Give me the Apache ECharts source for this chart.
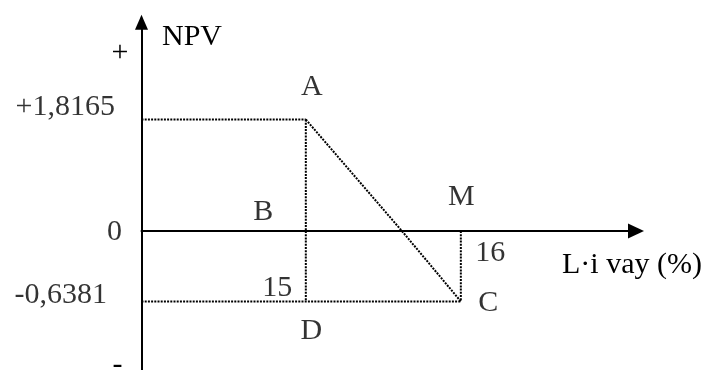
<!DOCTYPE html>
<html>
<head>
<meta charset="utf-8">
<script src="https://cdn.jsdelivr.net/npm/echarts@6/dist/echarts.min.js"></script>
<style>
html, body { margin: 0; padding: 0; background: #fff; }
#chart { width: 709px; height: 370px; }
</style>
</head>
<body>
<div id="chart"></div>
<script>
// lãi vay (%) tại hai lần thử
const rates = [15, 16]
// NPV tương ứng
const npvs = [1.8165, -0.6381]
// tên các điểm
const pointNames = ['A', 'C']
const axisNames = ['B', 'M']
const footName = 'D'
// chỗ đoạn AC cắt trục hoành
const crossRate = 15.62

const xMin = 13.94
const xMax = 17.13
const font = '"Liberation Serif", "Times New Roman", serif'
const dotted = { color: '#000', width: 2, type: [2, 1.2] }

const fmt = v => (v === 0 ? '0' : (v > 0 ? '+' : '') + v.toFixed(4).replace('.', ','))

function seg(grid, points) {
  return {
    type: 'line',
    xAxisIndex: grid,
    yAxisIndex: grid,
    data: points,
    symbol: 'none',
    lineStyle: dotted,
    clip: false,
    silent: true,
    z: 1
  }
}

function tags(grid, items) {
  return {
    type: 'scatter',
    xAxisIndex: grid,
    yAxisIndex: grid,
    symbolSize: 1,
    itemStyle: { color: 'transparent' },
    silent: true,
    data: items.map(it => ({
      value: it.at,
      label: {
        show: true,
        position: 'inside',
        formatter: it.text,
        align: it.align || 'center',
        verticalAlign: 'middle',
        offset: it.offset,
        fontFamily: font,
        fontSize: 30,
        color: '#000'
      }
    }))
  }
}

const chart = echarts.init(document.getElementById('chart'))

const hidden = {
  axisTick: { show: false },
  axisLabel: { show: false },
  splitLine: { show: false }
}
const axisLine = { color: '#000', width: 2 }

chart.setOption({
  animation: false,
  backgroundColor: '#fff',
  grid: [
    { left: 141.5, right: 73, top: 22.3, bottom: 139 },
    { left: 141.5, right: 73, top: 231, bottom: 0 }
  ],
  xAxis: [
    {
      gridIndex: 0,
      type: 'value',
      min: xMin,
      max: xMax,
      ...hidden,
      axisLine: { show: true, lineStyle: axisLine, symbol: ['none', 'triangle'], symbolSize: [15, 16] },
      name: 'L·i vay (%)',
      nameLocation: 'end',
      nameGap: -74,
      nameTextStyle: { fontFamily: font, fontSize: 30, color: '#000', align: 'left', verticalAlign: 'top', lineHeight: 68 }
    },
    { gridIndex: 1, type: 'value', min: xMin, max: xMax, ...hidden, axisLine: { show: false } }
  ],
  yAxis: [
    {
      gridIndex: 0,
      type: 'value',
      min: 0,
      max: 3.4,
      ...hidden,
      axisLine: { show: true, onZero: false, lineStyle: axisLine, symbol: ['none', 'triangle'], symbolSize: [13, 15] },
      name: 'NPV',
      nameLocation: 'end',
      nameGap: -15,
      nameTextStyle: { fontFamily: font, fontSize: 30, color: '#000', align: 'left', verticalAlign: 'middle', padding: [0, 0, 0, 20.5] }
    },
    {
      gridIndex: 1,
      type: 'value',
      min: -1.26,
      max: 0,
      ...hidden,
      axisLine: { show: true, onZero: false, lineStyle: axisLine }
    }
  ],
  graphic: [
    { type: 'text', x: 120, y: 53.5, style: { text: '+', fontFamily: font, fontSize: 30, fill: '#000', align: 'center', verticalAlign: 'middle' } },
    { type: 'text', x: 117.5, y: 365, style: { text: '-', fontFamily: font, fontSize: 30, fill: '#000', align: 'center', verticalAlign: 'middle' } }
  ],
  series: [
    // phần trên trục hoành
    seg(0, [[xMin, npvs[0]], [rates[0], npvs[0]]]),
    seg(0, [[rates[0], npvs[0]], [rates[0], 0]]),
    seg(0, [[rates[0], npvs[0]], [crossRate, 0]]),
    // phần dưới trục hoành
    seg(1, [[rates[0], 0], [rates[0], npvs[1]]]),
    seg(1, [[xMin, npvs[1]], [rates[1], npvs[1]]]),
    seg(1, [[rates[1], 0], [rates[1], npvs[1]]]),
    seg(1, [[crossRate, 0], [rates[1], npvs[1]]]),
    tags(0, [
      { at: [rates[0], npvs[0]], text: pointNames[0], offset: [6, -32] },
      { at: [rates[0], 0], text: axisNames[0], offset: [-42.5, -19] },
      { at: [rates[1], 0], text: axisNames[1], offset: [0.5, -34] },
      { at: [rates[1], 0], text: String(rates[1]), align: 'left', offset: [14.5, 22] },
      { at: [xMin, npvs[0]], text: fmt(npvs[0]), align: 'right', offset: [-26.5, -12.5] },
      { at: [xMin, 0], text: fmt(0), align: 'right', offset: [-19.5, 1.5] }
    ]),
    tags(1, [
      { at: [rates[1], npvs[1]], text: pointNames[1], align: 'left', offset: [17.5, 1.5] },
      { at: [rates[0], npvs[1]], text: footName, offset: [5.5, 29.5] },
      { at: [rates[0], npvs[1]], text: String(rates[0]), align: 'right', offset: [-13.5, -13.5] },
      { at: [xMin, npvs[1]], text: fmt(npvs[1]), align: 'right', offset: [-34.5, -6.5] }
    ])
  ]
})
</script>
</body>
</html>
